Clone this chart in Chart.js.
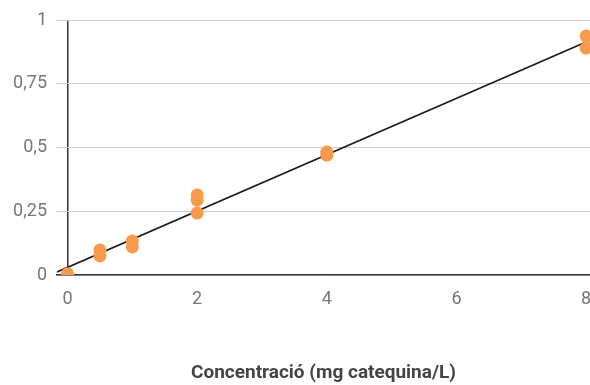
<!DOCTYPE html>
<html>
<head>
<meta charset="utf-8">
<script src="https://cdn.jsdelivr.net/npm/chart.js@4/dist/chart.umd.min.js"></script>
<style>
  body { margin: 0; background: #fff; }
</style>
</head>
<body>
<canvas id="chart" width="590" height="385"></canvas>
<script>
// measured points, concentration (mg catequina/L) vs absorbance
const concX = [0, 0.5, 0.5, 1, 1, 2, 2, 2, 4, 4, 8, 8];
const absY = [0.005, 0.098, 0.075, 0.133, 0.11, 0.314, 0.294, 0.243, 0.482, 0.47, 0.937, 0.89];
// trend line end points
const trendX = [-0.162, 8];
const trendY = [0.012, 0.914];
const xTicks = [0, 2, 4, 6, 8];
const yTicks = [0, 0.25, 0.5, 0.75, 1];
const xTitle = "Concentració (mg catequina/L)";

const ctx = document.getElementById("chart").getContext("2d");
new Chart(ctx, {
    type: "scatter",
    data: {
        datasets: [
            {
                label: "Abs",
                data: concX.map((x, i) => ({ x, y: absY[i] })),
                backgroundColor: "#f79a4b",
                borderWidth: 0,
                pointRadius: 6.5,
                clip: 0,
                order: 1
            },
            {
                label: "Trend",
                type: "line",
                data: trendX.map((x, i) => ({ x, y: trendY[i] })),
                borderColor: "#1a1a1a",
                borderWidth: 1.6,
                pointRadius: 0,
                fill: false,
                order: 2
            }
        ]
    },
    options: {
        responsive: false,
        animation: false,
        layout: { autoPadding: false, padding: { top: 20, left: 0, right: 0, bottom: 0 } },
        plugins: { legend: { display: false }, tooltip: { enabled: false } },
        scales: {
            x: {
                type: "linear",
                min: -0.162,
                max: 8.06,
                afterBuildTicks: s => { s.ticks = xTicks.map(v => ({ value: v })); },
                afterFit: s => { s.height = 110; s.paddingLeft = 0; s.paddingRight = 0; },
                grid: {
                    drawTicks: false,
                    color: c => (c.tick && c.tick.value === 0 ? "#333333" : "rgba(0,0,0,0)"),
                    lineWidth: 1.5
                },
                border: { display: true, color: "#333333", width: 1.5 },
                ticks: {
                    padding: 14,
                    color: "#777777",
                    font: { family: "Roboto", size: 18 },
                    maxRotation: 0
                },
                title: {
                    display: true,
                    text: xTitle,
                    color: "#444444",
                    font: { family: "Roboto", size: 19, weight: "bold" },
                    padding: { top: 4, bottom: 0 }
                }
            },
            y: {
                min: 0,
                max: 1,
                afterBuildTicks: s => { s.ticks = yTicks.map(v => ({ value: v })); },
                afterFit: s => { s.width = 57; s.paddingTop = 0; s.paddingBottom = 0; },
                grid: { drawTicks: false, color: "#cccccc", lineWidth: 1 },
                border: { display: false },
                ticks: {
                    padding: 10,
                    color: "#777777",
                    font: { family: "Roboto", size: 18 },
                    callback: v => String(v).replace(".", ",")
                }
            }
        }
    }
});
</script>
</body>
</html>
